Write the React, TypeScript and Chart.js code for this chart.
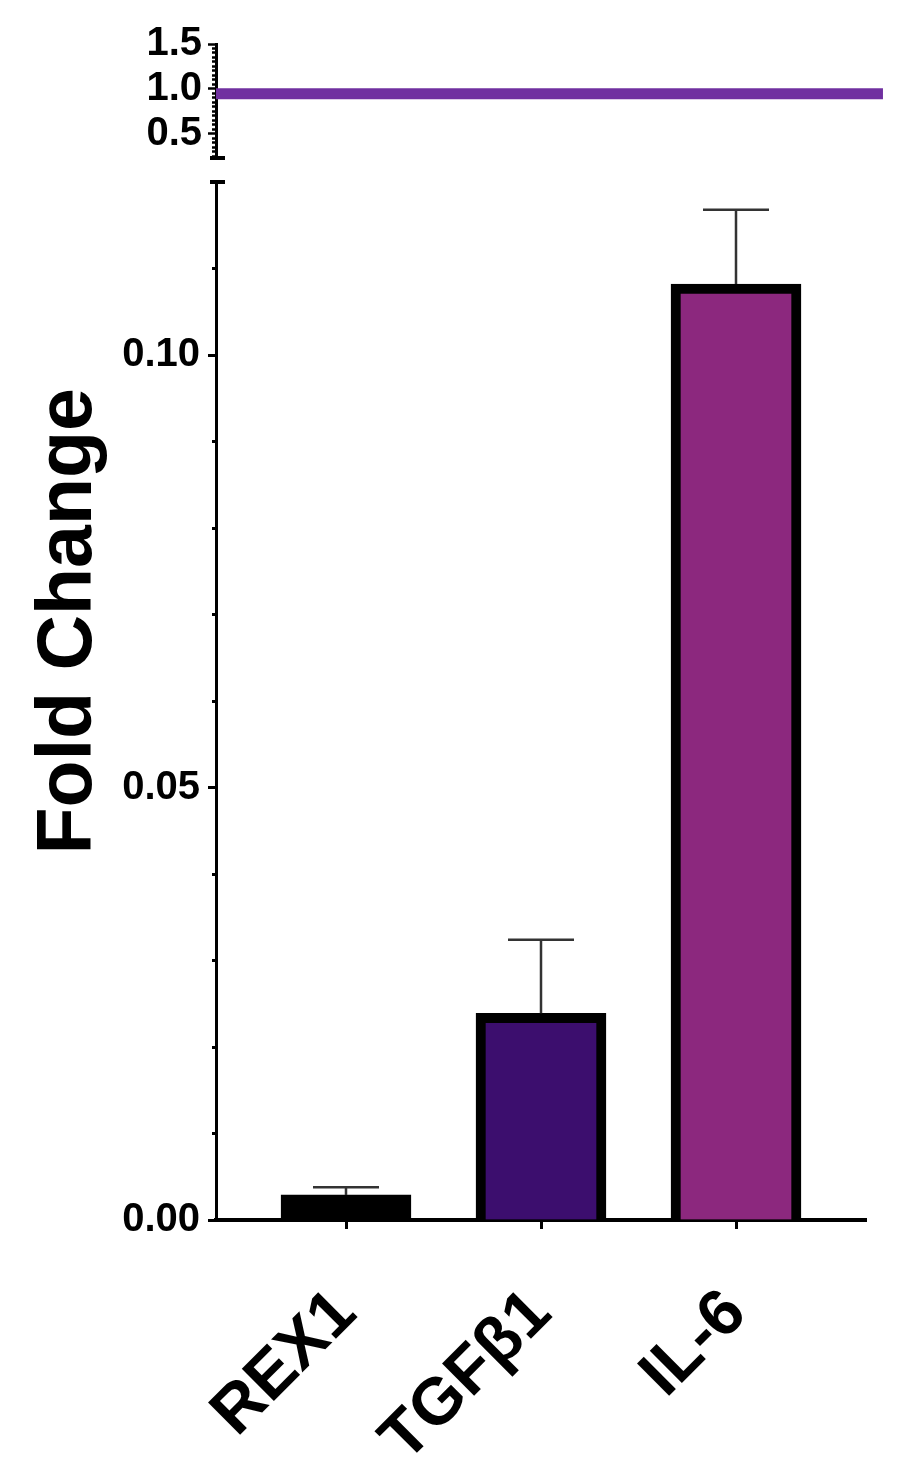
import React, { useEffect, useRef } from "react";
import { Chart, registerables } from "chart.js";

Chart.register(...registerables);

// ---- data ----
const categories = ["REX1", "TGFβ1", "IL-6"];
const foldChange = [0.0029, 0.0239, 0.1082];
const semUpper = [0.0009, 0.0085, 0.0086];
const referenceLevel = [0.945, 0.945];

// axis ranges / ticks
const lowerAxisMin = 0;
const lowerAxisMax = 0.12;
const lowerStep = 0.01;
const upperAxisMin = 0.23;
const upperAxisMax = 1.5;
const upperStep = 0.05;
const xMin = -2 / 3;
const xMax = 8 / 3;
const refLineOvershoot = 0.087;
const yTitle = " Fold Change";

// styles
const FONT = '"Liberation Sans", Arial, Helvetica, sans-serif';
const barColors = ["#000000", "#3C0E6E", "#8C287E"];
const lineColor = "#7030A0";

const isMult = (v: number, m: number) => Math.abs(v / m - Math.round(v / m)) < 1e-6;

const extrasPlugin = {
  id: "extras",
  afterDatasetsDraw(chart: any) {
    const { ctx, scales } = chart;
    const x = scales.x;
    const y = scales.y;
    const y2 = scales.y2;
    ctx.save();
    // error bars (upper only)
    ctx.strokeStyle = "#333333";
    ctx.lineWidth = 2.5;
    foldChange.forEach((v, i) => {
      const px = x.getPixelForValue(i);
      const p0 = y.getPixelForValue(v);
      const p1 = y.getPixelForValue(v + semUpper[i]);
      ctx.beginPath();
      ctx.moveTo(px, p0);
      ctx.lineTo(px, p1);
      ctx.moveTo(px - 33, p1);
      ctx.lineTo(px + 33, p1);
      ctx.stroke();
    });
    // axis break caps
    ctx.strokeStyle = "#000";
    ctx.lineWidth = 4;
    const ax = chart.chartArea.left;
    [y2.getPixelForValue(upperAxisMin), y.getPixelForValue(lowerAxisMax)].forEach((py: number) => {
      ctx.beginPath();
      ctx.moveTo(ax - 6, py);
      ctx.lineTo(ax + 9, py);
      ctx.stroke();
    });
    ctx.restore();
  },
};

export default function App() {
  const ref = useRef<HTMLCanvasElement | null>(null);

  useEffect(() => {
    if (!ref.current) return;
    const tickFont = { family: FONT, size: 40, weight: "bold" as const };
    const chart = new Chart(ref.current, {
      type: "bar",
      data: {
        datasets: [
          {
            type: "bar",
            data: foldChange.map((v, i) => ({ x: i, y: v })),
            backgroundColor: barColors,
            borderColor: "#000",
            borderWidth: 10,
            barThickness: 130,
            xAxisID: "x",
            yAxisID: "y",
          } as any,
          {
            type: "line",
            data: [
              { x: xMin, y: referenceLevel[0] },
              { x: xMax + refLineOvershoot, y: referenceLevel[1] },
            ],
            borderColor: lineColor,
            borderWidth: 11,
            pointRadius: 0,
            clip: false,
            xAxisID: "x",
            yAxisID: "y2",
          } as any,
        ],
      },
      options: {
        animation: false,
        responsive: false,
        layout: { padding: { left: 0, right: 50, top: 44, bottom: 0 } },
        plugins: { legend: { display: false }, tooltip: { enabled: false } },
        scales: {
          y: {
            type: "linear",
            position: "left",
            stack: "fc",
            stackWeight: 1038,
            min: lowerAxisMin,
            max: lowerAxisMax,
            afterBuildTicks: (s: any) => {
              s.ticks = s.ticks.filter((t: any) => t.value < lowerAxisMax - 1e-9);
            },
            afterFit: (s: any) => {
              s.width = 116;
            },
            ticks: {
              stepSize: lowerStep,
              autoSkip: false,
              padding: 8,
              color: "#000",
              font: tickFont,
              callback: (v: any) => (isMult(Number(v), 0.05) ? Number(v).toFixed(2) : ""),
            },
            grid: {
              drawOnChartArea: false,
              tickLength: 8,
              tickWidth: 3,
              tickColor: "#000",
              tickBorderDash: (c: any) => (c.tick && isMult(c.tick.value, 0.05) ? [] : [0, 4, 20]),
            },
            border: { color: "#000", width: 3 },
          },
          yGap: {
            type: "linear",
            position: "left",
            stack: "fc",
            stackWeight: 24,
            afterFit: (s: any) => {
              s.width = 116;
            },
            ticks: { display: false },
            grid: { display: false },
            border: { display: false },
          },
          y2: {
            type: "linear",
            position: "left",
            stack: "fc",
            stackWeight: 114,
            min: upperAxisMin,
            max: upperAxisMax,
            afterBuildTicks: (s: any) => {
              s.ticks = s.ticks.filter((t: any) => t.value >= 0.25 - 1e-9);
            },
            afterFit: (s: any) => {
              s.width = 116;
            },
            ticks: {
              stepSize: upperStep,
              autoSkip: false,
              includeBounds: false,
              padding: 6,
              color: "#000",
              font: tickFont,
              callback: (v: any) => (isMult(Number(v), 0.5) ? Number(v).toFixed(1) : ""),
            },
            grid: {
              drawOnChartArea: false,
              tickLength: 8,
              tickWidth: 2.5,
              tickColor: "#000",
              tickBorderDash: (c: any) => (c.tick && isMult(c.tick.value, 0.5) ? [] : [0, 4, 20]),
            },
            border: { color: "#000", width: 3 },
          },
          yT: {
            type: "linear",
            position: "left",
            weight: 10,
            afterFit: (s: any) => {
              s.width = 100;
            },
            ticks: { display: false },
            grid: { display: false },
            border: { display: false },
            title: {
              display: true,
              text: yTitle,
              color: "#000",
              font: { family: FONT, size: 77, weight: "bold" },
              padding: { top: 24, bottom: 0 },
            },
          },
          x: {
            type: "linear",
            position: "bottom",
            min: xMin,
            max: xMax,
            offset: false,
            afterBuildTicks: (s: any) => {
              s.ticks = categories.map((_, i) => ({ value: i }));
            },
            afterFit: (s: any) => {
              s.height = 248;
            },
            ticks: {
              autoSkip: false,
              minRotation: 45,
              maxRotation: 45,
              padding: 46,
              color: "#000",
              font: { family: FONT, size: 66, weight: "bold" },
              callback: (v: any) => categories[Number(v)] ?? "",
            },
            grid: {
              offset: false,
              drawOnChartArea: false,
              tickLength: 9,
              tickWidth: 3,
              tickColor: "#000",
            },
            border: { color: "#000", width: 4 },
          },
        } as any,
      },
      plugins: [extrasPlugin],
    });
    return () => chart.destroy();
  }, []);

  return (
    <div style={{ position: "absolute", left: 0, top: 0, width: 916, height: 1468, background: "#fff" }}>
      <canvas ref={ref} width={916} height={1468} style={{ display: "block", width: 916, height: 1468 }} />
    </div>
  );
}
